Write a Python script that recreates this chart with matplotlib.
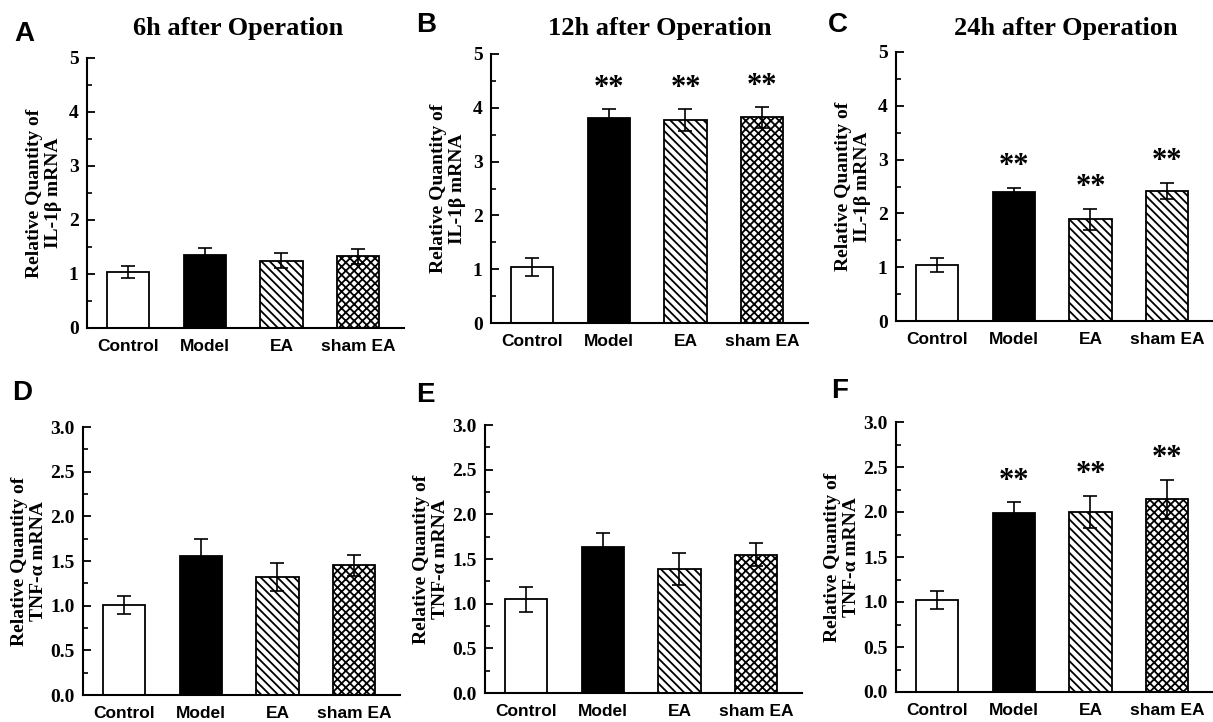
import matplotlib
matplotlib.use("Agg")
import matplotlib.pyplot as plt
from matplotlib import font_manager
from matplotlib.ticker import MultipleLocator, FormatStrFormatter

# group names on the x axis
groups = ["Control", "Model", "EA", "sham EA"]

# IL-1beta mRNA, mean and error
il1b_6h = [1.03, 1.35, 1.25, 1.33]
il1b_6h_err = [0.11, 0.14, 0.14, 0.14]
il1b_12h = [1.04, 3.81, 3.77, 3.82]
il1b_12h_err = [0.17, 0.17, 0.21, 0.19]
il1b_24h = [1.05, 2.39, 1.89, 2.42]
il1b_24h_err = [0.13, 0.09, 0.20, 0.15]

# TNF-alpha mRNA, mean and error
tnf_6h = [1.01, 1.56, 1.32, 1.45]
tnf_6h_err = [0.10, 0.19, 0.16, 0.12]
tnf_12h = [1.05, 1.63, 1.39, 1.55]
tnf_12h_err = [0.14, 0.16, 0.18, 0.13]
tnf_24h = [1.02, 1.99, 2.00, 2.14]
tnf_24h_err = [0.10, 0.12, 0.18, 0.22]

# significance marks per bar
no_sig = ["", "", "", ""]
sig = ["", "**", "**", "**"]

titles = ["6h after Operation", "12h after Operation", "24h after Operation"]
letters = ["A", "B", "C", "D", "E", "F"]

available = {f.name for f in font_manager.fontManager.ttflist}
SANS = "Liberation Sans Narrow" if "Liberation Sans Narrow" in available else "Liberation Sans"
SERIF = "Liberation Serif"

plt.rcParams['hatch.linewidth'] = 1.3
plt.rcParams['hatch.color'] = 'black'

W, H = 1213, 722
fig = plt.figure(figsize=(W / 100, H / 100), dpi=100)

fill_colors = ["white", "black", "white", "white"]
hatch_std = [None, None, "\\\\\\\\", "xxxx"]
hatch_c = [None, None, "\\\\\\\\", "\\\\\\\\"]


def make_axes(left, top, bottom):
    width = 317
    return fig.add_axes([left / W, 1 - bottom / H, width / W, (bottom - top) / H])


def draw_panel(ax, values, errs, marks, hatches, ymax, major, minor, fmt, ylabel, pad):
    x = list(range(len(groups)))
    for i in x:
        ax.bar(i, values[i], width=0.55, color=fill_colors[i], edgecolor="black",
               linewidth=1.3, hatch=hatches[i], zorder=2)
    ax.errorbar(x, values, yerr=errs, fmt="none", ecolor="black", elinewidth=1.2,
                capsize=4.8, capthick=1.2, zorder=3)
    for i in x:
        if marks[i]:
            ax.annotate(marks[i], xy=(i, values[i] + errs[i]), xytext=(0, 15),
                        textcoords="offset points", ha="center", va="center",
                        fontsize=22, fontfamily=SERIF, fontweight="bold")
    ax.set_xlim(-0.54, 3.6)
    ax.set_ylim(0, ymax)
    ax.set_xticks(x)
    ax.set_xticklabels(groups, fontfamily=SANS, fontweight="bold", fontsize=12.5)
    ax.tick_params(axis="x", length=0, pad=8)
    ax.yaxis.set_major_locator(MultipleLocator(major))
    ax.yaxis.set_minor_locator(MultipleLocator(minor))
    ax.yaxis.set_major_formatter(FormatStrFormatter(fmt))
    ax.tick_params(axis="y", which="major", direction="in", length=6, width=1.3, pad=6)
    ax.tick_params(axis="y", which="minor", direction="in", length=3.5, width=1.2)
    for lab in ax.get_yticklabels():
        lab.set_fontfamily(SERIF)
        lab.set_fontweight("bold")
        lab.set_fontsize(14)
    for s in ["top", "right"]:
        ax.spines[s].set_visible(False)
    for s in ["left", "bottom"]:
        ax.spines[s].set_linewidth(1.5)
    ax.set_ylabel(ylabel, fontfamily=SERIF, fontweight="bold", fontsize=14,
                  linespacing=1.15, labelpad=pad)


axA = make_axes(87, 58, 328)
axB = make_axes(491, 54, 323)
axC = make_axes(896, 52, 321)
axD = make_axes(83, 427, 695)
axE = make_axes(485, 425, 693)
axF = make_axes(896, 422, 692)

il_label = "Relative Quantity of\nIL-1\u03b2 mRNA"
tnf_label = "Relative Quantity of\nTNF-\u03b1 mRNA"

draw_panel(axA, il1b_6h, il1b_6h_err, no_sig, hatch_std, 5, 1, 0.5, "%d", il_label, 5)
draw_panel(axB, il1b_12h, il1b_12h_err, sig, hatch_std, 5, 1, 0.5, "%d", il_label, 5)
draw_panel(axC, il1b_24h, il1b_24h_err, sig, hatch_c, 5, 1, 0.5, "%d", il_label, 5)
draw_panel(axD, tnf_6h, tnf_6h_err, no_sig, hatch_std, 3, 0.5, 0.25, "%.1f", tnf_label, 2)
draw_panel(axE, tnf_12h, tnf_12h_err, no_sig, hatch_std, 3, 0.5, 0.25, "%.1f", tnf_label, 2)
draw_panel(axF, tnf_24h, tnf_24h_err, sig, hatch_std, 3, 0.5, 0.25, "%.1f", tnf_label, 2)

# column titles
for xc, t in zip([238, 660, 1066], titles):
    fig.text(xc / W, 1 - 28 / H, t, ha="center", va="center", fontfamily=SERIF,
             fontweight="bold", fontsize=19)

# panel letters
letter_pos = [(14, 34), (416, 25), (828, 25), (12, 393), (416, 395), (831, 391)]
for (lx, ly), letter in zip(letter_pos, letters):
    fig.text(lx / W, 1 - ly / H, letter, ha="left", va="center",
             fontfamily="Liberation Sans", fontweight="bold", fontsize=20)

fig.savefig("out.png", dpi=100)
